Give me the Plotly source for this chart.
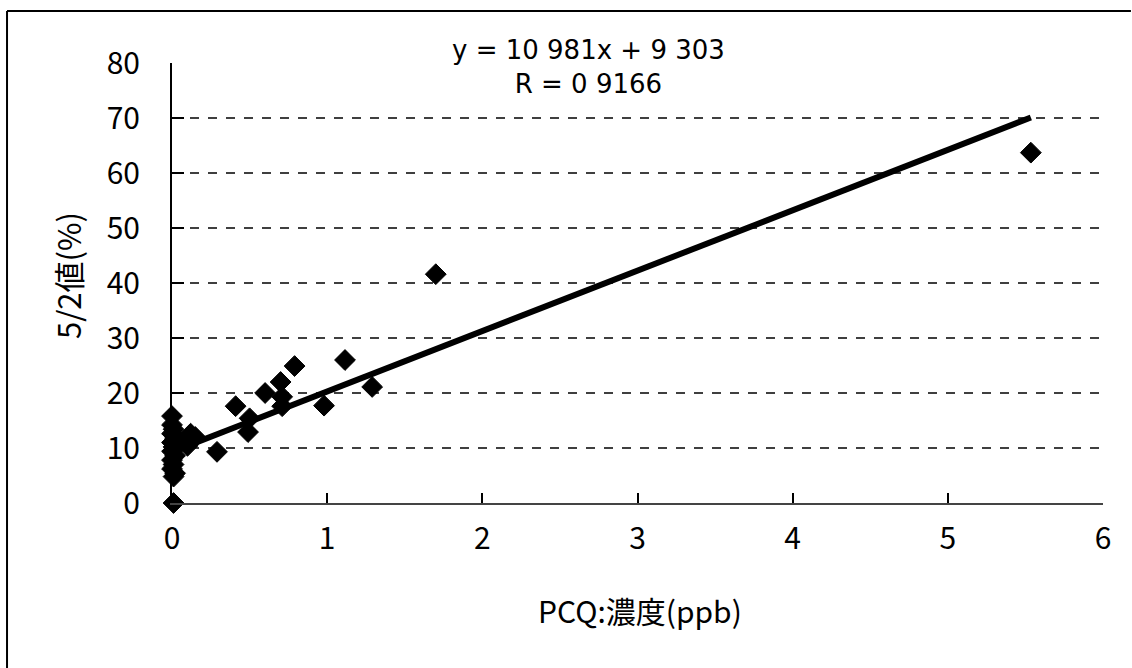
import plotly.graph_objects as go

# ---- data ----
pcq_x = [0.0, 0.0, 0.01, 0.0, 0.02, 0.0, 0.01, 0.0, 0.02, 0.0, 0.01, 0.0, 0.02, 0.01,
         0.01, 0.08, 0.12, 0.10, 0.15, 0.29, 0.41, 0.50, 0.49, 0.60, 0.70, 0.71, 0.71,
         0.79, 0.98, 1.115, 1.29, 1.70, 5.535]
ratio_y = [15.8, 14.2, 13.4, 12.6, 11.8, 11.0, 10.2, 9.4, 8.6, 7.8, 7.0, 6.2, 5.4, 4.8,
           0.0, 11.2, 12.6, 10.4, 12.0, 9.3, 17.6, 15.4, 12.9, 20.0, 22.0, 19.3, 17.6,
           24.9, 17.7, 26.0, 21.1, 41.6, 63.7]

slope = 10.981
intercept = 9.303
eq_text = "y = 10 981x + 9 303"
r_text = "R = 0 9166"

x_ticks = [0, 1, 2, 3, 4, 5, 6]
y_ticks = [0, 10, 20, 30, 40, 50, 60, 70, 80]
grid_levels = [10, 20, 30, 40, 50, 60, 70]

x_title = "PCQ:濃度(ppb)"
y_title = "5/2値(%)"

FONT = "Noto Sans CJK JP"

fit_x = [0.0, max(pcq_x)]
fit_y = [slope * v + intercept for v in fit_x]

fig = go.Figure()
fig.add_trace(go.Scatter(
    x=fit_x, y=fit_y, mode="lines",
    line=dict(color="black", width=6),
    cliponaxis=False, showlegend=False, hoverinfo="skip"))
fig.add_trace(go.Scatter(
    x=pcq_x, y=ratio_y, mode="markers",
    marker=dict(symbol="diamond", size=16, color="black",
                line=dict(color="black", width=1)),
    cliponaxis=False, showlegend=False))

shapes = []
for g in grid_levels:
    shapes.append(dict(type="line", xref="paper", yref="y", x0=0, x1=1, y0=g, y1=g,
                       line=dict(color="black", width=1.5, dash="dash"), layer="below"))
# outer frame (left and top edges visible)
shapes.append(dict(type="line", xref="paper", yref="paper", x0=-0.1772, x1=-0.1772,
                   y0=1.118, y1=-0.40, line=dict(color="black", width=2)))
shapes.append(dict(type="line", xref="paper", yref="paper", x0=-0.1772, x1=1.03,
                   y0=1.118, y1=1.118, line=dict(color="black", width=2)))

fig.update_layout(
    width=1132, height=668,
    margin=dict(l=172, r=29, t=63, b=165),
    paper_bgcolor="white", plot_bgcolor="white",
    font=dict(family=FONT, color="black"),
    shapes=shapes,
    annotations=[
        dict(text=eq_text + "<br>" + r_text, xref="paper", yref="paper", x=0.447,
             y=(503 - 67) / 440, showarrow=False, align="center",
             font=dict(size=26, family="DejaVu Sans"), xanchor="center", yanchor="middle"),
        dict(text=x_title, xref="paper", yref="paper", x=0.503, y=(503 - 610) / 440,
             showarrow=False, font=dict(size=30, family=FONT), xanchor="center", yanchor="middle"),
        dict(text=y_title, xref="paper", yref="paper", x=(67 - 172) / 931, y=(503 - 276) / 440,
             showarrow=False, font=dict(size=31, family=FONT), textangle=-90,
             xanchor="center", yanchor="middle"),
    ],
    xaxis=dict(range=[0, 6], tickvals=x_ticks, ticktext=[str(v) for v in x_ticks],
               showgrid=False, zeroline=False, showline=True, linecolor="#444", linewidth=1.5,
               ticks="inside", ticklen=10, tickcolor="black", tickwidth=1.5,
               tickfont=dict(size=30, family=FONT), ticklabelstandoff=8),
    yaxis=dict(range=[0, 80], tickvals=y_ticks, ticktext=[str(v) for v in y_ticks],
               showgrid=False, zeroline=False, showline=True, linecolor="black", linewidth=2,
               ticks="inside", ticklen=12, tickcolor="black", tickwidth=2,
               tickfont=dict(size=30, family=FONT), ticklabelstandoff=24),
)

fig.write_html("out.html")
